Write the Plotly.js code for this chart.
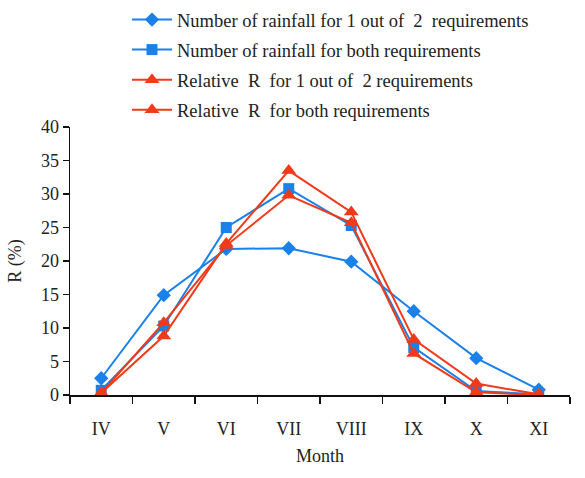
<!DOCTYPE html>
<html>
<head>
<meta charset="utf-8">
<script src="https://cdn.plot.ly/plotly-3.0.1.min.js"></script>
<style>html,body{margin:0;padding:0;background:#fff;}#chart{width:585px;height:478px;}</style>
</head>
<body>
<div id="chart"></div>
<script>
const months = ["IV","V","VI","VII","VIII","IX","X","XI"];
const rainfallOneOfTwo = [2.5, 14.9, 21.8, 21.9, 19.9, 12.5, 5.5, 0.8];
const rainfallBoth = [0.7, 10.3, 25.0, 30.8, 25.3, 7.1, 0.6, 0.1];
const relativeOneOfTwo = [0.3, 8.8, 22.6, 33.5, 27.3, 8.3, 1.7, 0.1];
const relativeBoth = [0.3, 10.8, 22.3, 29.8, 25.7, 6.2, 0.4, 0.0];
const seriesNames = [
  "Number of rainfall for 1 out of  2  requirements",
  "Number of rainfall for both requirements",
  "Relative  R  for 1 out of  2 requirements",
  "Relative  R  for both requirements"
];

const blue = "#1a80ea";
const red = "#f03a1a";
const serif = "Liberation Serif, DejaVu Serif, serif";

function tr(y, name, color, symbol, size, g) {
  return {
    x: months, y: y, name: name, type: "scatter", mode: "lines+markers",
    legendgroup: g,
    line: {color: color, width: 2},
    marker: {color: color, symbol: symbol, size: size}
  };
}

const data = [
  tr(rainfallOneOfTwo, seriesNames[0], blue, "diamond", 11, "a"),
  tr(rainfallBoth, seriesNames[1], blue, "square", 11, "b"),
  tr(relativeOneOfTwo, seriesNames[2], red, "triangle-up", 13, "c"),
  tr(relativeBoth, seriesNames[3], red, "triangle-up", 13, "d")
];

const layout = {
  width: 585, height: 478,
  margin: {l: 70, r: 15, t: 127, b: 83, autoexpand: false},
  paper_bgcolor: "#fff", plot_bgcolor: "#fff",
  font: {family: serif, size: 18, color: "#222"},
  showlegend: true,
  legend: {
    x: 0.114, y: 1.47, xanchor: "left", yanchor: "top",
    font: {family: serif, size: 18.5, color: "#222"},
    tracegroupgap: 3, itemwidth: 40, bgcolor: "rgba(0,0,0,0)"
  },
  xaxis: {
    type: "category", range: [-0.5, 7.5],
    showline: true, linecolor: "#111", linewidth: 1.5,
    ticks: "outside", tickson: "boundaries", ticklen: 7, tickwidth: 1.5, tickcolor: "#111",
    showgrid: false, zeroline: false,
    ticklabelstandoff: 17,
    tickfont: {family: serif, size: 18, color: "#222"},
    title: {text: "Month", font: {family: serif, size: 18, color: "#222"}, standoff: 11}
  },
  yaxis: {
    range: [0, 40], dtick: 5,
    showline: true, linecolor: "#111", linewidth: 1.5,
    ticks: "outside", ticklen: 6, tickwidth: 1.5, tickcolor: "#111",
    showgrid: false, zeroline: false,
    tickfont: {family: serif, size: 18, color: "#222"},
    title: {text: "R (%)", font: {family: serif, size: 18, color: "#222"}, standoff: 14}
  }
};

Plotly.newPlot("chart", data, layout, {displayModeBar: false, staticPlot: true});
</script>
</body>
</html>
